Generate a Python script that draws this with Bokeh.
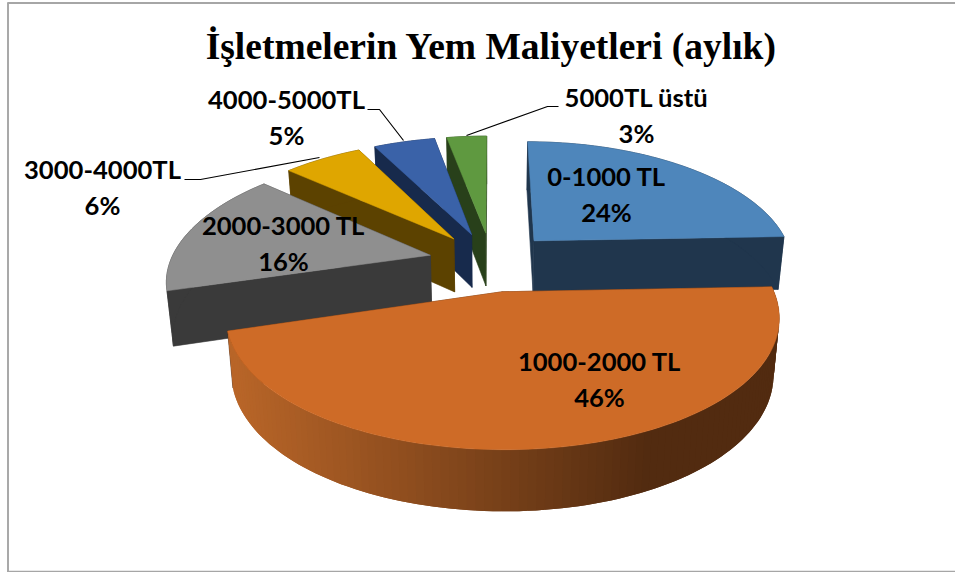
import numpy as np
from bokeh.plotting import figure
from bokeh.embed import file_html
from bokeh.resources import INLINE
from bokeh.core.properties import value as fixed

# ---- data (labels show these rounded to whole percents)
categories = ["0-1000 TL", "1000-2000 TL", "2000-3000 TL", "3000-4000TL", "4000-5000TL", "5000TL üstü"]
shares = [24.4, 46.0, 16.1, 5.9, 4.6, 3.0]
title_text = "İşletmelerin Yem Maliyetleri (aylık)"

# ---- styles
top_colors = ["#4E86BB", "#CE6B27", "#8F8F8F", "#DFA600", "#3A62A8", "#5F9940"]
wall_colors = ["#20364D", "#522B10", "#3A3A3A", "#5C4200", "#172A4C", "#28401A"]
draw_order = [5, 4, 3, 2, 0, 1]
label_x = [606, 599, 283, 102, 286, 636]
label_y = [175, 360, 224, 168, 98, 96]
label_gap = 36.5
leaders = {3: [(184, 179), (200, 179), (319, 157)],
           4: [(367, 109), (379, 109), (403, 140)],
           5: [(558, 106), (547, 106), (466, 135)]}

# ---- projection of the tilted pie onto the page
CX, CY = 491.0, 261.0
RX, RY = 260.0, 121.3
KX, KY = 0.18, 0.162
EXPLODE = 0.243
TH, KT = 54.0, 0.10
CONVERGE = 0.98


def rim(u, v, du, dv):
    U, V = u + du, v + dv
    x = CX + RX * U / (1 + KX * V)
    y = CY - RY * V / (1 + KY * V)
    return x, y, TH / (1 + KT * V)


def ax_low(x):
    return CX + (x - CX) * CONVERGE


def slice_points(t0, t1):
    mid = (t0 + t1) / 2
    du, dv = EXPLODE * np.sin(mid), EXPLODE * np.cos(mid)
    ts = np.linspace(t0, t1, max(int(np.degrees(t1 - t0) / 1.5), 3))
    ax, ay, ath = rim(0.0, 0.0, du, dv)
    rx, ry, rth = rim(np.sin(ts), np.cos(ts), du, dv)
    return (ax, ay, ax_low(ax), ay + ath), rx, ry, ax_low(rx), ry + rth


W, H = 955, 572
p = figure(width=W, height=H, x_range=(0, W), y_range=(H, 0),
           toolbar_location=None, output_backend="svg", min_border=0,
           outline_line_color=None, background_fill_color="white", border_fill_color="white")
p.axis.visible = False
p.grid.visible = False

# frame of the chart
p.line([7.5, 7.5], [2, H], line_color="#8C8C8C", line_width=1.5)
p.line([7, W], [2.5, 2.5], line_color="#A6A6A6", line_width=2)
p.line([7, W], [571, 571], line_color="#A6A6A6", line_width=1.5)

edges = np.radians(np.cumsum([0] + shares) * 360.0 / sum(shares))


def quad(x, y, color):
    p.patch(x, y, fill_color=color, line_color=color, line_width=0.6)


def orange_shade(x):
    f = np.clip((x - 232) / (640 - 232), 0, 1)
    a, b = np.array([184, 101, 40]), np.array([82, 43, 16])
    c = a + (b - a) * f
    return "#%02x%02x%02x" % tuple(int(round(i)) for i in c)


for i in draw_order:
    (ax, ay, bx, by), rx, ry, lx, ly = slice_points(edges[i], edges[i + 1])
    wall = wall_colors[i]
    # far radial wall first, then the near one
    for k in (-1, 0):
        quad([ax, rx[k], lx[k], bx], [ay, ry[k], ly[k], by], wall)
    # outer wall
    if i == 1:
        # shaded strips, each one overlapping the one before so no seams show
        for k in range(len(rx) - 1):
            j = max(k - 1, 0)
            c = orange_shade((rx[k] + rx[k + 1]) / 2)
            p.patch(np.r_[rx[j:k + 2], lx[j:k + 2][::-1]], np.r_[ry[j:k + 2], ly[j:k + 2][::-1]],
                    fill_color=c, line_color=None)
    else:
        quad(np.r_[rx, lx[::-1]], np.r_[ry, ly[::-1]], wall)
    # top face
    p.patch(np.r_[ax, rx], np.r_[ay, ry], fill_color=top_colors[i], line_color=top_colors[i], line_width=0.5)

# leader lines
for i, pts in leaders.items():
    p.line([q[0] for q in pts], [q[1] for q in pts], line_color="black", line_width=1.2)

# labels
lab_x, lab_y, lab_t = [], [], []
for i in range(len(categories)):
    lab_x += [label_x[i], label_x[i]]
    lab_y += [label_y[i], label_y[i] + label_gap]
    lab_t += [categories[i], f"{shares[i]:.0f}%"]
p.text(lab_x, lab_y, text=lab_t, text_font=fixed("Lato"), text_font_style="bold",
       text_font_size="25.6px", text_color="black", text_align="center", text_baseline="middle")

p.text([491], [46], text=[title_text], text_font=fixed("Liberation Serif"), text_font_style="bold",
       text_font_size="37.5px", text_color="black", text_align="center", text_baseline="middle")

open("out.html", "w").write(file_html(p, INLINE))
